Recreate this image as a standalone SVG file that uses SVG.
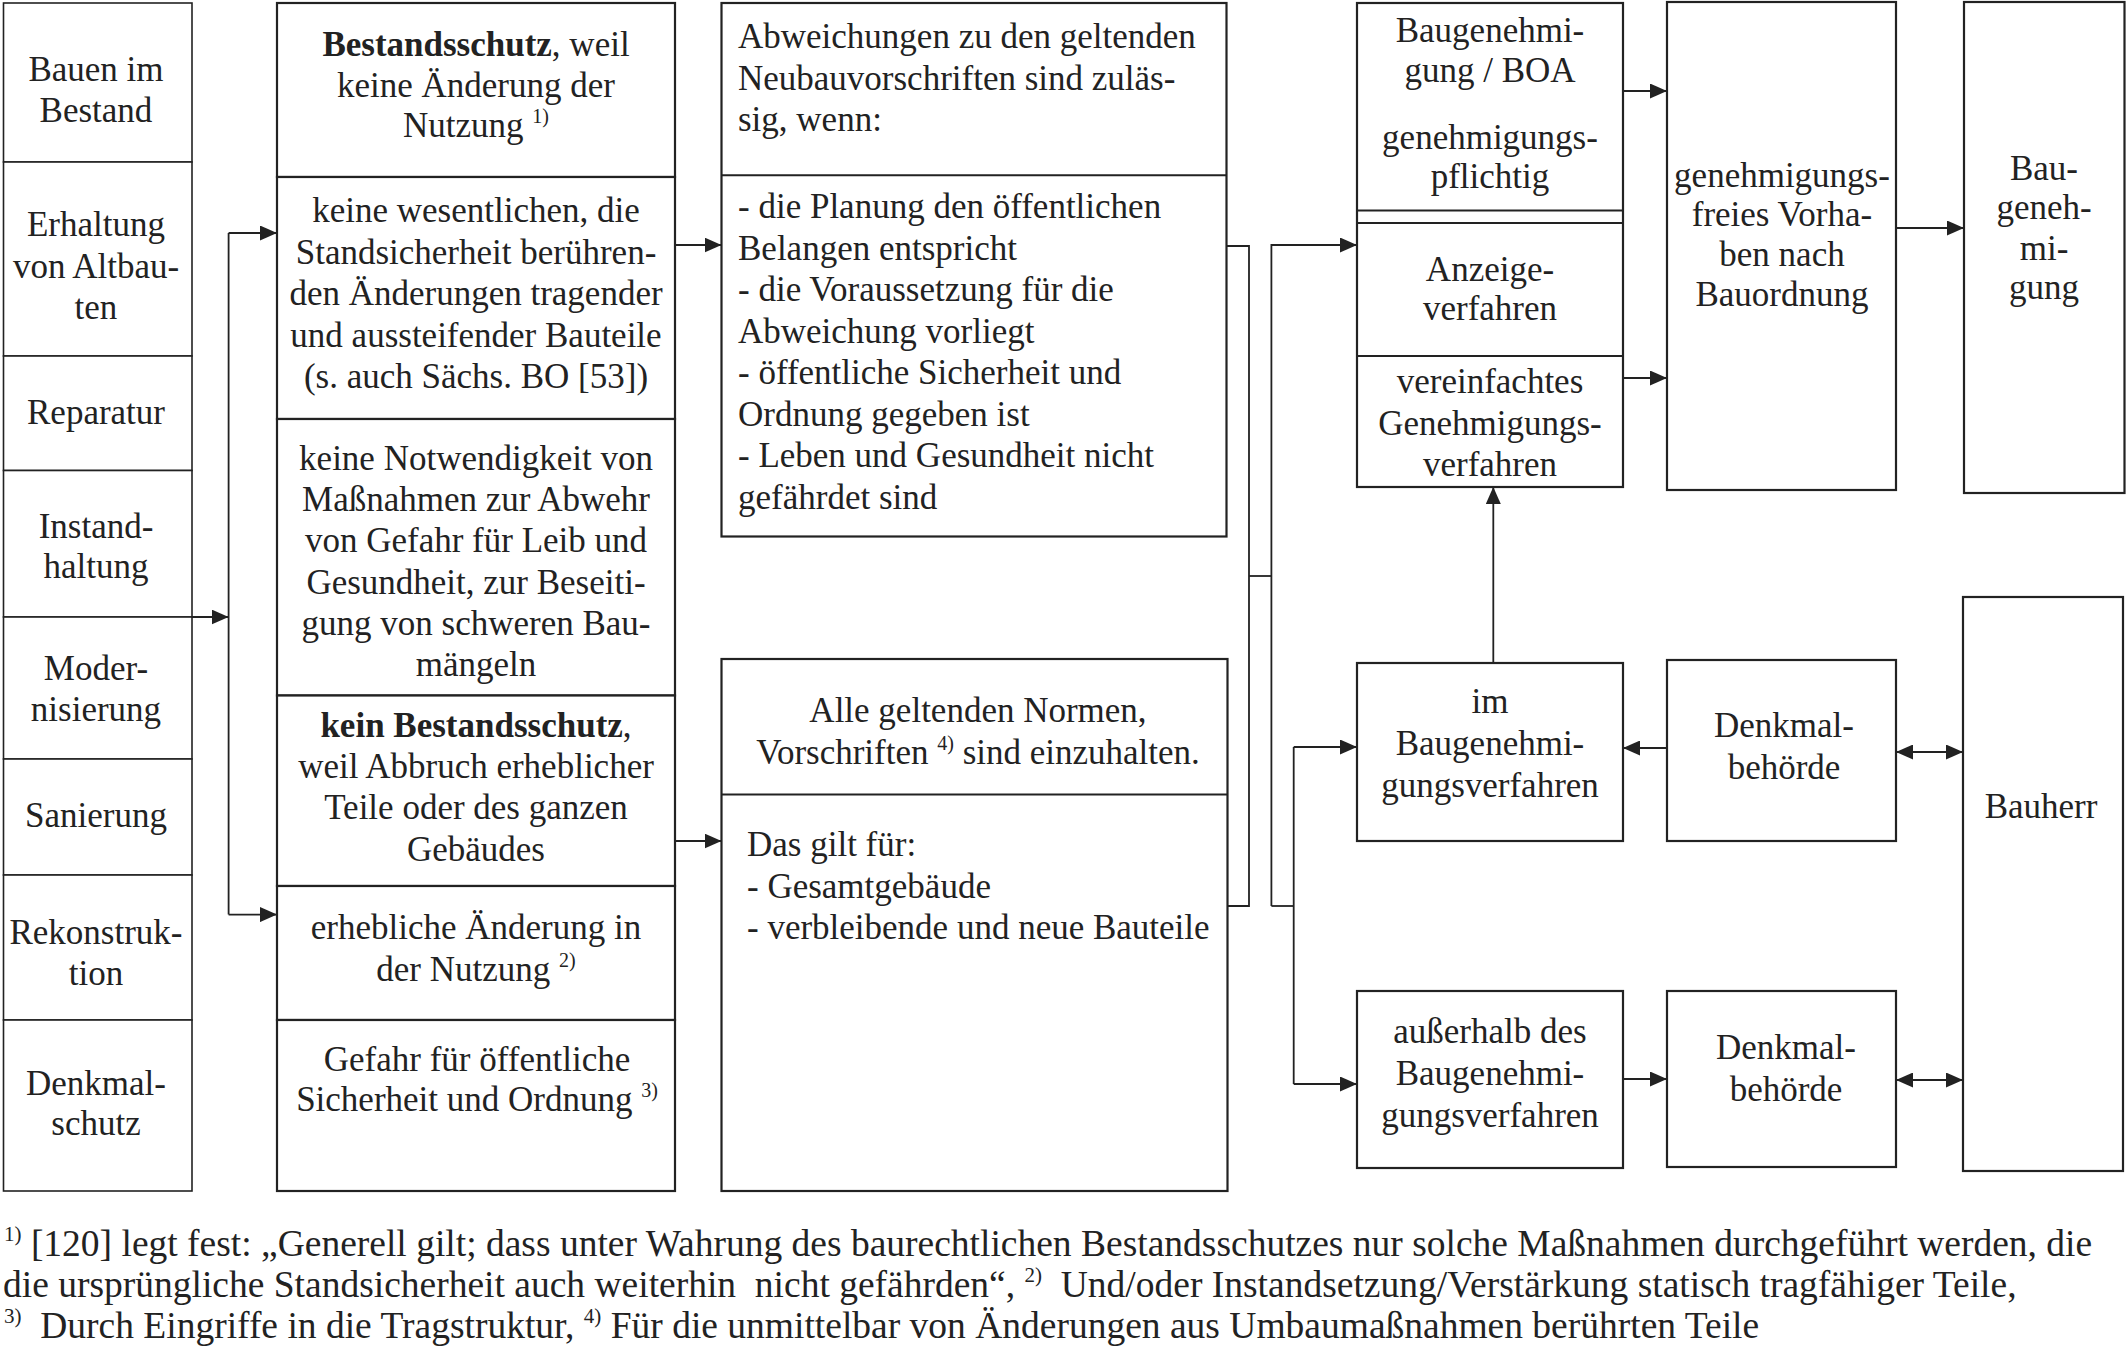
<svg xmlns="http://www.w3.org/2000/svg" width="2126" height="1348" viewBox="0 0 2126 1348">
<defs>
<style>
.box{fill:#fff;stroke:#222;stroke-width:2.2}
.thin{fill:#fff;stroke:#222;stroke-width:1.6}
.ln{fill:none;stroke:#222;stroke-width:2}
.cn{fill:none;stroke:#222;stroke-width:1.8}
text{font-family:"Liberation Serif","Times New Roman",serif;font-size:35px;fill:#222}
.c{text-anchor:middle}
.b{font-weight:bold}
.sup{font-size:20px}
.fn{font-size:37.5px}
.fsup{font-size:21px}
</style>
<marker id="ah" viewBox="0 0 17 15" refX="17" refY="7.5" markerWidth="17" markerHeight="15" markerUnits="userSpaceOnUse" orient="auto-start-reverse"><path d="M0,0 L17,7.5 L0,15 z" fill="#222"/></marker>
</defs>
<rect x="0" y="0" width="2126" height="1348" fill="#fff"/>

<g id="col1">
<g id="n-bauen"><rect class="thin" x="3.5" y="3" width="188.5" height="159"/><text class="c" x="96" y="81">Bauen im</text><text class="c" x="96" y="122">Bestand</text></g>
<g id="n-erhaltung"><rect class="thin" x="3.5" y="162" width="188.5" height="194"/><text class="c" x="96" y="236">Erhaltung</text><text class="c" x="96" y="278">von Altbau-</text><text class="c" x="96" y="319">ten</text></g>
<g id="n-reparatur"><rect class="thin" x="3.5" y="356" width="188.5" height="114.5"/><text class="c" x="96" y="424">Reparatur</text></g>
<g id="n-instand"><rect class="thin" x="3.5" y="470.5" width="188.5" height="146.5"/><text class="c" x="96" y="538">Instand-</text><text class="c" x="96" y="578">haltung</text></g>
<g id="n-modern"><rect class="thin" x="3.5" y="617" width="188.5" height="142"/><text class="c" x="96" y="680">Moder-</text><text class="c" x="96" y="721">nisierung</text></g>
<g id="n-sanierung"><rect class="thin" x="3.5" y="759" width="188.5" height="116"/><text class="c" x="96" y="827">Sanierung</text></g>
<g id="n-rekon"><rect class="thin" x="3.5" y="875" width="188.5" height="145"/><text class="c" x="96" y="944">Rekonstruk-</text><text class="c" x="96" y="985">tion</text></g>
<g id="n-denkmalschutz"><rect class="thin" x="3.5" y="1020" width="188.5" height="171"/><text class="c" x="96" y="1095">Denkmal-</text><text class="c" x="96" y="1135">schutz</text></g>
</g>

<g id="col2">
<g id="n-bestandsschutz"><rect class="box" x="277" y="3" width="398" height="174"/><text class="c" x="476" y="56"><tspan class="b">Bestandsschutz</tspan>, weil</text><text class="c" x="476" y="97">keine Änderung der</text><text class="c" x="476" y="137">Nutzung <tspan class="sup" dy="-14">1)</tspan></text></g>
<g id="n-keinewesentl"><rect class="box" x="277" y="177" width="398" height="242"/><text class="c" x="476" y="222">keine wesentlichen, die</text><text class="c" x="476" y="264">Standsicherheit berühren-</text><text class="c" x="476" y="305">den Änderungen tragender</text><text class="c" x="476" y="347">und aussteifender Bauteile</text><text class="c" x="476" y="388">(s. auch Sächs. BO [53])</text></g>
<g id="n-keinenotw"><rect class="box" x="277" y="419" width="398" height="276.5"/><text class="c" x="476" y="470">keine Notwendigkeit von</text><text class="c" x="476" y="511">Maßnahmen zur Abwehr</text><text class="c" x="476" y="552">von Gefahr für Leib und</text><text class="c" x="476" y="594">Gesundheit, zur Beseiti-</text><text class="c" x="476" y="635">gung von schweren Bau-</text><text class="c" x="476" y="676">mängeln</text></g>
<g id="n-keinbestand"><rect class="box" x="277" y="695.5" width="398" height="190.5"/><text class="c" x="476" y="737"><tspan class="b">kein Bestandsschutz</tspan>,</text><text class="c" x="476" y="778">weil Abbruch erheblicher</text><text class="c" x="476" y="819">Teile oder des ganzen</text><text class="c" x="476" y="861">Gebäudes</text></g>
<g id="n-erheblich"><rect class="box" x="277" y="886" width="398" height="134"/><text class="c" x="476" y="939">erhebliche Änderung in</text><text class="c" x="476" y="981">der Nutzung <tspan class="sup" dy="-14">2)</tspan></text></g>
<g id="n-gefahr"><rect class="box" x="277" y="1020" width="398" height="171"/><text class="c" x="477" y="1071">Gefahr für öffentliche</text><text class="c" x="477" y="1111">Sicherheit und Ordnung <tspan class="sup" dy="-14">3)</tspan></text></g>
</g>

<g id="col3">
<g id="n-abweichungen"><rect class="box" x="721.5" y="3" width="505" height="533.5"/><line class="ln" x1="721.5" y1="175.3" x2="1226.5" y2="175.3"/>
<text x="738" y="48">Abweichungen zu den geltenden</text><text x="738" y="90">Neubauvorschriften sind zuläs-</text><text x="738" y="131">sig, wenn:</text>
<text x="738" y="218">- die Planung den öffentlichen</text><text x="738" y="259.5">Belangen entspricht</text><text x="738" y="301">- die Voraussetzung für die</text><text x="738" y="342.5">Abweichung vorliegt</text><text x="738" y="384">- öffentliche Sicherheit und</text><text x="738" y="425.5">Ordnung gegeben ist</text><text x="738" y="467">- Leben und Gesundheit nicht</text><text x="738" y="508.5">gefährdet sind</text></g>
<g id="n-normen"><rect class="box" x="721.5" y="659" width="506" height="532"/><line class="ln" x1="721.5" y1="794.4" x2="1227.5" y2="794.4"/>
<text class="c" x="978" y="722">Alle geltenden Normen,</text><text class="c" x="978" y="764">Vorschriften <tspan class="sup" dy="-14">4)</tspan><tspan dy="14"> sind einzuhalten.</tspan></text>
<text x="747" y="856">Das gilt für:</text><text x="747" y="898">- Gesamtgebäude</text><text x="747" y="939">- verbleibende und neue Bauteile</text></g>
</g>

<g id="n-verfahren"><rect class="box" x="1357" y="3" width="266" height="484"/><line class="ln" x1="1357" y1="210.5" x2="1623" y2="210.5"/><line class="ln" x1="1357" y1="223" x2="1623" y2="223"/><line class="ln" x1="1357" y1="356" x2="1623" y2="356"/>
<text class="c" x="1490" y="42">Baugenehmi-</text><text class="c" x="1490" y="82">gung / BOA</text><text class="c" x="1490" y="149">genehmigungs-</text><text class="c" x="1490" y="188">pflichtig</text>
<text class="c" x="1490" y="281">Anzeige-</text><text class="c" x="1490" y="320">verfahren</text>
<text class="c" x="1490" y="393">vereinfachtes</text><text class="c" x="1490" y="435">Genehmigungs-</text><text class="c" x="1490" y="476">verfahren</text></g>

<g id="n-frei"><rect class="box" x="1667" y="2" width="229" height="488"/><text class="c" x="1782" y="187">genehmigungs-</text><text class="c" x="1782" y="226">freies Vorha-</text><text class="c" x="1782" y="266">ben nach</text><text class="c" x="1782" y="306">Bauordnung</text></g>

<g id="n-baugen"><rect class="box" x="1964" y="2" width="160.5" height="491"/><text class="c" x="2044" y="180">Bau-</text><text class="c" x="2044" y="219">geneh-</text><text class="c" x="2044" y="260">mi-</text><text class="c" x="2044" y="299">gung</text></g>

<g id="n-im"><rect class="box" x="1357" y="663" width="266" height="178"/><text class="c" x="1490" y="713">im</text><text class="c" x="1490" y="755">Baugenehmi-</text><text class="c" x="1490" y="797">gungsverfahren</text></g>
<g id="n-denkmal1"><rect class="box" x="1667" y="660" width="229" height="181"/><text class="c" x="1784" y="737">Denkmal-</text><text class="c" x="1784" y="779">behörde</text></g>
<g id="n-bauherr"><rect class="box" x="1963" y="597" width="160" height="574"/><text class="c" x="2041" y="818">Bauherr</text></g>
<g id="n-ausserhalb"><rect class="box" x="1357" y="991" width="266" height="177"/><text class="c" x="1490" y="1043">außerhalb des</text><text class="c" x="1490" y="1085">Baugenehmi-</text><text class="c" x="1490" y="1127">gungsverfahren</text></g>
<g id="n-denkmal2"><rect class="box" x="1667" y="991" width="229" height="176"/><text class="c" x="1786" y="1059">Denkmal-</text><text class="c" x="1786" y="1101">behörde</text></g>

<g id="connectors">
<path class="cn" d="M192,617 H228.6" marker-end="url(#ah)"/>
<path class="cn" d="M228.6,233 V914.6"/>
<path class="cn" d="M228.6,233 H277" marker-end="url(#ah)"/>
<path class="cn" d="M228.6,914.6 H277" marker-end="url(#ah)"/>
<path class="cn" d="M675,245 H721.5" marker-end="url(#ah)"/>
<path class="cn" d="M675,841 H721.5" marker-end="url(#ah)"/>
<path class="cn" d="M1226.5,246 H1249 V906 H1227.5"/>
<path class="cn" d="M1249,576 H1271.4"/>
<path class="cn" d="M1271.4,906 V245 H1357" marker-end="url(#ah)"/>
<path class="cn" d="M1271.4,906 H1293.7"/>
<path class="cn" d="M1293.7,747 V1084"/>
<path class="cn" d="M1293.7,747 H1357" marker-end="url(#ah)"/>
<path class="cn" d="M1293.7,1084 H1357" marker-end="url(#ah)"/>
<path class="cn" d="M1623,91 H1667" marker-end="url(#ah)"/>
<path class="cn" d="M1623,378 H1667" marker-end="url(#ah)"/>
<path class="cn" d="M1896,228 H1964" marker-end="url(#ah)"/>
<path class="cn" d="M1493.3,663 V487" marker-end="url(#ah)"/>
<path class="cn" d="M1667,748 H1623" marker-end="url(#ah)"/>
<path class="cn" d="M1896,752 H1963" marker-start="url(#ah)" marker-end="url(#ah)"/>
<path class="cn" d="M1623,1079 H1667" marker-end="url(#ah)"/>
<path class="cn" d="M1896,1080 H1963" marker-start="url(#ah)" marker-end="url(#ah)"/>
</g>

<g id="footnotes">
<text class="fn" x="4" y="1256"><tspan class="fsup" dy="-15">1)</tspan><tspan dy="15"> [120] legt fest: „Generell gilt; dass unter Wahrung des baurechtlichen Bestandsschutzes nur solche Maßnahmen durchgeführt werden, die</tspan></text>
<text class="fn" x="3" y="1297" xml:space="preserve">die ursprüngliche Standsicherheit auch weiterhin  nicht gefährden“, <tspan class="fsup" dy="-15">2)</tspan><tspan dy="15">  Und/oder Instandsetzung/Verstärkung statisch tragfähiger Teile,</tspan></text>
<text class="fn" x="4" y="1338" xml:space="preserve"><tspan class="fsup" dy="-15">3)</tspan><tspan dy="15">  Durch Eingriffe in die Tragstruktur, </tspan><tspan class="fsup" dy="-15">4)</tspan><tspan dy="15"> Für die unmittelbar von Änderungen aus Umbaumaßnahmen berührten Teile</tspan></text>
</g>
</svg>
